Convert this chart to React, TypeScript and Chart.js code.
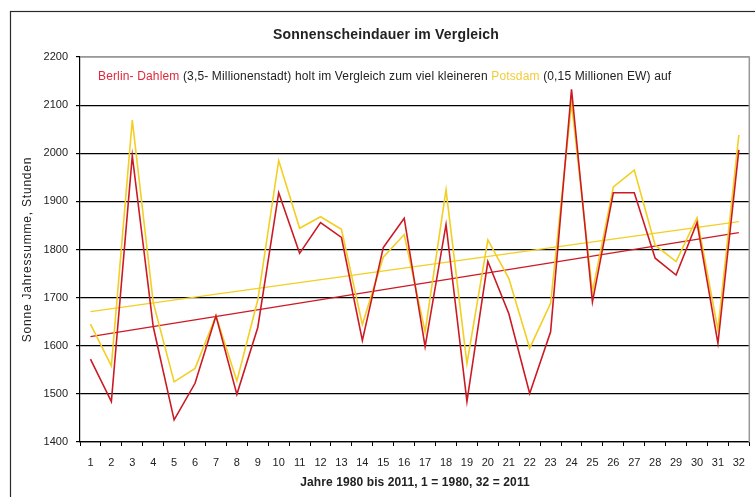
import React, { useEffect, useRef } from "react";
import { Chart, registerables } from "chart.js";

Chart.register(...registerables);

// ---- data ----
const yearIndex = ["1","2","3","4","5","6","7","8","9","10","11","12","13","14","15","16","17","18","19","20","21","22","23","24","25","26","27","28","29","30","31","32"];
const berlinDahlem = [1572,1484,1995,1640,1446,1522,1662,1499,1638,1918,1792,1856,1825,1611,1804,1865,1598,1852,1484,1775,1667,1501,1629,2133,1691,1918,1918,1782,1747,1856,1605,2007];
const potsdam = [1645,1558,2069,1690,1525,1553,1662,1527,1695,1985,1844,1868,1842,1644,1784,1831,1629,1924,1563,1820,1740,1595,1688,2104,1712,1930,1965,1809,1775,1866,1633,2038];
// trend line end values (first year, last year)
const trendBerlin = [1619, 1835];
const trendPotsdam = [1671, 1858];
const yMin = 1400;
const yMax = 2200;
const yStep = 100;

const TITLE = "Sonnenscheindauer im Vergleich";
const X_TITLE = "Jahre 1980 bis 2011, 1 = 1980, 32 = 2011";
const Y_TITLE = "Sonne Jahressumme, Stunden";
const NOTE_PARTS = [
  { text: "Berlin- Dahlem", color: "#e0283c" },
  { text: " (3,5- Millionenstadt) holt im Vergleich zum viel kleineren ", color: "#222222" },
  { text: "Potsdam", color: "#f2cc3c" },
  { text: " (0,15 Millionen EW) auf", color: "#222222" },
];

const RED = "#cc1a24";
const YELLOW = "#f2cf22";
const FONT = "'Liberation Sans', Arial, sans-serif";

function endsOnly(ends: number[], n: number) {
  const arr: (number | null)[] = new Array(n).fill(null);
  arr[0] = ends[0];
  arr[n - 1] = ends[1];
  return arr;
}

const decor = {
  id: "decor",
  beforeDraw(chart: any) {
    const ctx = chart.ctx;
    ctx.save();
    ctx.fillStyle = "#ffffff";
    ctx.fillRect(0, 0, chart.width, chart.height);
    ctx.strokeStyle = "#2a2a2a";
    ctx.lineWidth = 1.2;
    ctx.strokeRect(10.5, 11.5, 900, 700);
    ctx.restore();
  },
  afterDraw(chart: any) {
    const ctx = chart.ctx;
    const ca = chart.chartArea;
    ctx.save();
    // plot area border (top / right)
    ctx.strokeStyle = "#999999";
    ctx.lineWidth = 1.5;
    ctx.beginPath();
    ctx.moveTo(ca.left, ca.top);
    ctx.lineTo(ca.right, ca.top);
    ctx.lineTo(ca.right, ca.bottom);
    ctx.stroke();

    ctx.textBaseline = "middle";
    ctx.textAlign = "center";
    ctx.fillStyle = "#222222";
    ctx.font = `bold 14px ${FONT}`;
    ctx.letterSpacing = "0.2px";
    ctx.fillText(TITLE, 386, 35);

    ctx.font = `bold 12px ${FONT}`;
    ctx.letterSpacing = "0.1px";
    ctx.fillText(X_TITLE, 415, 483);

    // annotation line
    ctx.font = `12px ${FONT}`;
    ctx.letterSpacing = "0.15px";
    ctx.textAlign = "left";
    let x = 98;
    for (const p of NOTE_PARTS) {
      ctx.fillStyle = p.color;
      ctx.fillText(p.text, x, 77);
      x += ctx.measureText(p.text).width;
    }

    // y title
    ctx.fillStyle = "#222222";
    ctx.translate(28, (ca.top + ca.bottom) / 2);
    ctx.rotate(-Math.PI / 2);
    ctx.textAlign = "center";
    ctx.font = `12px ${FONT}`;
    ctx.letterSpacing = "0.8px";
    ctx.fillText(Y_TITLE, 0, 0);
    ctx.restore();
  },
};

export default function App() {
  const ref = useRef<HTMLCanvasElement>(null);
  useEffect(() => {
    if (!ref.current) return;
    const n = yearIndex.length;
    const chart = new Chart(ref.current, {
      type: "line",
      data: {
        labels: yearIndex,
        datasets: [
          {
            label: "Berlin-Dahlem",
            data: berlinDahlem,
            borderColor: RED,
            borderWidth: 1.6,
            pointRadius: 0,
            tension: 0,
            order: 0,
          },
          {
            label: "Potsdam",
            data: potsdam,
            borderColor: YELLOW,
            borderWidth: 1.6,
            pointRadius: 0,
            tension: 0,
            order: 1,
          },
          {
            label: "Trend Berlin",
            data: endsOnly(trendBerlin, n),
            borderColor: RED,
            borderWidth: 1.3,
            pointRadius: 0,
            spanGaps: true,
            order: 2,
          },
          {
            label: "Trend Potsdam",
            data: endsOnly(trendPotsdam, n),
            borderColor: YELLOW,
            borderWidth: 1.3,
            pointRadius: 0,
            spanGaps: true,
            order: 3,
          },
        ],
      },
      options: {
        responsive: false,
        animation: false,
        layout: { padding: { top: 57, right: 2.5, left: 0, bottom: 0 } },
        plugins: {
          legend: { display: false },
          title: { display: false },
          tooltip: { enabled: false },
        },
        scales: {
          x: {
            offset: true,
            grid: {
              offset: true,
              drawOnChartArea: false,
              color: "#000000",
              tickLength: 4,
              tickColor: "#000000",
            },
            border: { color: "#000000", width: 1.2 },
            ticks: {
              color: "#222222",
              font: { family: FONT, size: 11 },
              padding: 10,
              maxRotation: 0,
              autoSkip: false,
            },
            afterFit(scale: any) {
              scale.height = 55;
            },
          },
          y: {
            min: yMin,
            max: yMax,
            grid: {
              color: (c: any) => (c.tick && c.tick.value === yMax ? "#999999" : "#000000"),
              lineWidth: 1.2,
              tickLength: 4,
              tickColor: "#000000",
            },
            border: { color: "#000000", width: 1.2 },
            ticks: {
              stepSize: yStep,
              color: "#222222",
              font: { family: FONT, size: 11 },
              padding: 8,
              callback: (v: any) => String(v),
            },
            afterFit(scale: any) {
              scale.width = 80;
            },
          },
        },
      },
      plugins: [decor],
    });
    return () => chart.destroy();
  }, []);
  return (
    <div style={{ position: "absolute", left: 0, top: 0, width: 755, height: 497, background: "#fff" }}>
      <canvas ref={ref} width={755} height={497} style={{ display: "block" }} />
    </div>
  );
}
